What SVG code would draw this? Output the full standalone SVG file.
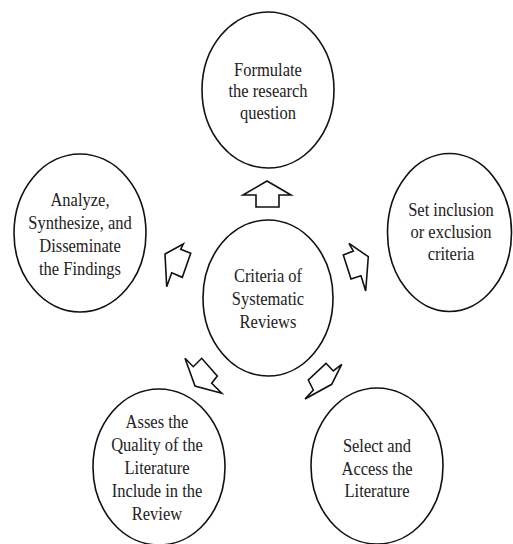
<svg xmlns="http://www.w3.org/2000/svg" width="513" height="544" viewBox="0 0 513 544">
<style>
.n{fill:#fff;stroke:#111;stroke-width:1.6}
.a{fill:#fff;stroke:#111;stroke-width:1.6;stroke-linejoin:miter}
.t{font-family:"Liberation Serif","Times New Roman",serif;font-size:16.5px;fill:#222;text-anchor:middle}
</style>
<rect width="513" height="544" fill="#fff"/>
<g id="connectors">
<polygon class="a" points="267,181 291,195 279,195 279,207 256,207 256,195 243,195"/>
<polygon class="a" points="183.3,244 165,254 166.7,286.7 171.7,272.7 182.3,277.3 190.7,253.3 180.7,249.3"/>
<polygon class="a" points="349,243.3 368.3,256.7 365.7,291 361,275.7 351,279 343.3,255 353.3,251"/>
<polygon class="a" points="185,358.3 193.3,366.7 201.7,358.3 217.3,376 211.7,383.3 221.7,393.3 195,386"/>
<polygon class="a" points="326,363.3 333.3,371 341.7,364.3 331.7,384.3 305,399 313.3,390 308.3,380"/>
</g>
<g id="top">
<ellipse class="n" cx="268" cy="90" rx="66" ry="78"/>
<g transform="matrix(1,0,0,1.15,0,0)">
<text class="t" x="268" y="66.09">Formulate</text>
<text class="t" x="268" y="84.78">the research</text>
<text class="t" x="268" y="103.48">question</text>
</g>
</g>
<g id="center">
<ellipse class="n" cx="268" cy="298" rx="65" ry="78"/>
<g transform="matrix(1,0,0,1.15,0,0)">
<text class="t" x="268" y="245.22">Criteria of</text>
<text class="t" x="268" y="265.22">Systematic</text>
<text class="t" x="268" y="285.22">Reviews</text>
</g>
</g>
<g id="left">
<ellipse class="n" cx="80" cy="233" rx="66" ry="79"/>
<g transform="matrix(1,0,0,1.15,0,0)">
<text class="t" x="80" y="179.13">Analyze,</text>
<text class="t" x="80" y="199.13">Synthesize, and</text>
<text class="t" x="80" y="219.13">Disseminate</text>
<text class="t" x="80" y="239.13">the Findings</text>
</g>
</g>
<g id="right">
<ellipse class="n" cx="449.5" cy="232.5" rx="62" ry="79"/>
<g transform="matrix(1,0,0,1.15,0,0)">
<text class="t" x="451" y="187.83">Set inclusion</text>
<text class="t" x="451" y="206.96">or exclusion</text>
<text class="t" x="451" y="226.09">criteria</text>
</g>
</g>
<g id="bottom-left">
<ellipse class="n" cx="159" cy="467" rx="66" ry="78"/>
<g transform="matrix(1,0,0,1.15,0,0)">
<text class="t" x="157" y="372.17">Asses the</text>
<text class="t" x="157" y="392.17">Quality  of the</text>
<text class="t" x="157" y="412.17">Literature</text>
<text class="t" x="157" y="432.17">Include in the</text>
<text class="t" x="157" y="452.17">Review</text>
</g>
</g>
<g id="bottom-right">
<ellipse class="n" cx="377" cy="466" rx="66" ry="78"/>
<g transform="matrix(1,0,0,1.15,0,0)">
<text class="t" x="377" y="393.04">Select  and</text>
<text class="t" x="377" y="413.04">Access the</text>
<text class="t" x="377" y="432.17">Literature</text>
</g>
</g>
</svg>
